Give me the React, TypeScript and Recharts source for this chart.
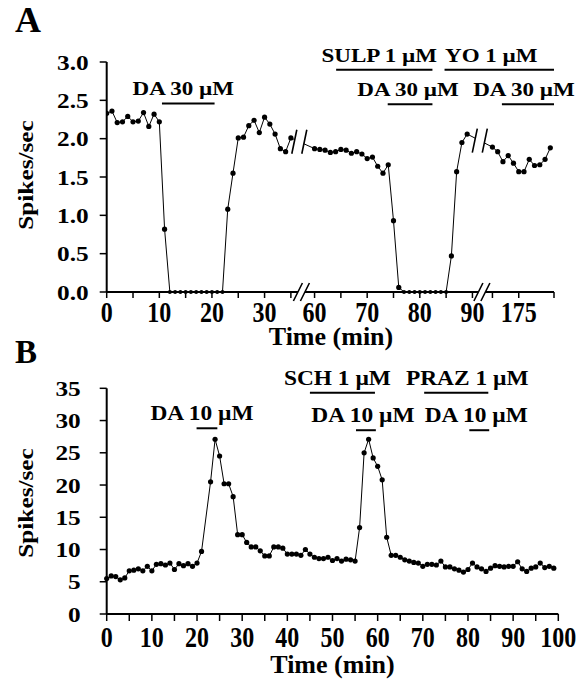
import { Line, LineChart, ReferenceDot, ReferenceLine, XAxis, YAxis } from 'recharts'

const serif = '"Liberation Serif", "Times New Roman", serif'
const span = (a: number, b: number) => Array.from({ length: b - a + 1 }, (_, i) => a + i)

// Panel A: three stretches of one recording, the time axis is broken between them
const minutesA1 = span(0, 35)
const spikesA1 = [
  2.33, 2.36, 2.21, 2.22, 2.29, 2.22, 2.23, 2.34, 2.16, 2.32, 2.22, 0.82,
  0, 0, 0, 0, 0, 0, 0, 0, 0, 0, 0,
  1.08, 1.55, 2.01, 2.02, 2.17, 2.24, 2.08, 2.28, 2.19, 2.06, 1.87, 1.83, 2.01,
]
const minutesA2 = span(60, 89)
const spikesA2 = [
  1.87, 1.86, 1.85, 1.82, 1.83, 1.86, 1.85, 1.81, 1.83, 1.8, 1.74, 1.76, 1.64, 1.55, 1.66,
  0.93, 0.06, 0, 0, 0, 0, 0, 0, 0, 0, 0, 0.47, 1.57, 1.95, 2.06,
]
const minutesA3 = span(170, 181)
const spikesA3 = [1.89, 1.83, 1.7, 1.78, 1.68, 1.57, 1.57, 1.73, 1.65, 1.66, 1.73, 1.88]

const ticksA = [0, 5, 10, 15, 20, 25, 30, 35, 60, 65, 70, 75, 80, 85, 90, 170, 175, 181.7]
const labelledA = [0, 10, 20, 30, 60, 70, 80, 90, 175]
const yTicksA = [0, 0.5, 1, 1.5, 2, 2.5, 3]

const drugsA = ['DA 30 µM', 'SULP 1 µM', 'YO 1 µM', 'DA 30 µM', 'DA 30 µM']
const drugOnA = [10.5, 64.1, 84.7, 73.9, 171.8]
const drugOffA = [20.5, 82.4, 181.7, 82.4, 181.7]
const drugLevelA = [2.46, 2.9, 2.9, 2.45, 2.45]

// Panel B: one sample per minute, none at 22 min
const spikesB = [
  5.5, 5.9, 5.8, 5.3, 5.6, 6.7, 6.8, 7.0, 6.7, 7.4,
  6.7, 7.7, 7.8, 7.6, 7.9, 6.9, 7.8, 7.5, 7.8, 7.4,
  7.9, 9.7, null, 20.5, 27.1, 24.5, 20.2, 20.2, 18.2, 12.3,
  12.3, 11.1, 10.4, 10.4, 9.8, 9.0, 9.0, 10.4, 10.4, 10.2,
  9.3, 9.3, 9.3, 9.1, 10.0, 9.3, 8.8, 8.6, 8.6, 8.8,
  8.3, 8.6, 8.2, 8.5, 8.4, 8.2, 13.4, 25.0, 27.1, 24.2,
  22.9, 20.8, 11.9, 9.1, 9.1, 8.8, 8.4, 8.2, 8.0, 7.9,
  7.4, 7.7, 7.7, 7.6, 8.2, 7.3, 7.3, 7.0, 6.8, 6.5,
  6.9, 7.9, 7.3, 7.0, 6.6, 7.1, 7.5, 7.4, 7.3, 7.4,
  7.4, 8.1, 7.0, 6.6, 7.1, 7.3, 7.9, 7.2, 7.4, 7.1,
]
const ticksB = [0, 5, 10, 15, 20, 25, 30, 35, 40, 45, 50, 55, 60, 65, 70, 75, 80, 85, 90, 95, 100]
const yTicksB = [0, 5, 10, 15, 20, 25, 30, 35]

const drugsB = ['DA 10 µM', 'SCH 1 µM', 'DA 10 µM', 'PRAZ 1 µM', 'DA 10 µM']
const drugOnB = [19.9, 45.0, 55.2, 70.3, 80.3]
const drugOffB = [24.5, 59.4, 59.6, 84.5, 84.7]
const drugLevelB = [28.8, 34.3, 28.5, 34.3, 28.5]

// broken axis: minutes -> position along the drawn axis
const toU = (t: number) => (t < 50 ? t : t < 130 ? t - 20.5 : t - 96.7)
const breaksA = [36.6, 70.9]

const rowsA = [
  ...minutesA1.map((t, i) => ({ u: toU(t), v: spikesA1[i] })),
  ...minutesA2.map((t, i) => ({ u: toU(t), v: spikesA2[i] })),
  ...minutesA3.map((t, i) => ({ u: toU(t), v: spikesA3[i] })),
]
const rowsB = spikesB.map((v, t) => ({ t, v })).filter((r) => r.v !== null)

const tickLabelsA = ticksA.map((t) => (labelledA.includes(t) ? String(t) : ''))
const tickLabelsB = ticksB.map((t) => (t % 10 === 0 ? String(t) : ''))

const lineAt = (u: number) => {
  const k = rowsA.findIndex((r) => r.u > u)
  const a = rowsA[k - 1]
  const b = rowsA[k]
  return a.v + ((b.v - a.v) * (u - a.u)) / (b.u - a.u)
}

function TickX(props: any) {
  const { x, y, index, labels, dy } = props
  return (
    <text
      transform={`translate(${x},${y + dy}) scale(0.8,1)`}
      textAnchor="middle"
      fontFamily={serif}
      fontWeight="bold"
      fontSize={30}
      fill="#000"
    >
      {labels[index]}
    </text>
  )
}

function TickY(props: any) {
  const { x, y, payload, digits } = props
  return (
    <text
      transform={`translate(${x},${y + 7.5}) scale(1.15,1)`}
      textAnchor="end"
      fontFamily={serif}
      fontWeight="bold"
      fontSize={22}
      fill="#000"
    >
      {Number(payload.value).toFixed(digits)}
    </text>
  )
}

function BreakMark(props: any) {
  const { cx, cy, h, w, gap, cover } = props
  const l = cx - gap / 2
  const r = cx + gap / 2
  const slash = (x: number) => `M${x - w / 2},${cy + h / 2}L${x + w / 2},${cy - h / 2}`
  const k = (cover / h) * w
  return (
    <g>
      <polygon
        points={`${l - k / 2},${cy + cover / 2} ${l + k / 2},${cy - cover / 2} ${r + k / 2},${cy - cover / 2} ${r - k / 2},${cy + cover / 2}`}
        fill="#fff"
      />
      <path d={slash(l) + slash(r)} stroke="#000" strokeWidth={1.6} fill="none" />
    </g>
  )
}

function drugText(label: string, dx: number, size: number, sx: number) {
  return (p: any) => (
    <text
      transform={`translate(${p.cx + dx},${p.cy - 8}) scale(${sx},1)`}
      textAnchor="middle"
      fontFamily={serif}
      fontWeight="bold"
      fontSize={size}
      fill="#000"
    >
      {label}
    </text>
  )
}

const dot = (p: any) => (
  <circle key={`d${p.index}`} cx={p.cx} cy={p.cy} r={p.value === 0 ? 2 : 2.6} fill="#000" />
)

const nudgeA = [-5, -5, -8, -2, -4]
const nudgeB = [-5, -5, -3, 11, -3]

const axisStyle = { stroke: '#000', strokeWidth: 2 }
const tickStyle = { stroke: '#000', strokeWidth: 1.5 }

export default function App() {
  return (
    <div style={{ position: 'absolute', left: 0, top: 0, width: 587, height: 682, background: '#fff' }}>
      <div style={{ position: 'absolute', left: 0, top: 0 }}>
        <LineChart width={587} height={352} data={rowsA} margin={{ top: 62, right: 33, bottom: 0, left: 0 }}>
          <XAxis
            dataKey="u"
            type="number"
            domain={[0, 85]}
            ticks={ticksA.map(toU)}
            interval={0}
            allowDataOverflow
            height={60}
            tickSize={6}
            axisLine={axisStyle}
            tickLine={tickStyle}
            tick={(p: any) => <TickX {...p} labels={tickLabelsA} dy={22} />}
          />
          <YAxis
            type="number"
            domain={[0, 3]}
            ticks={yTicksA}
            interval={0}
            width={106.7}
            tickSize={7}
            tickMargin={11}
            axisLine={axisStyle}
            tickLine={tickStyle}
            tick={(p: any) => <TickY {...p} digits={1} />}
          />
          <Line dataKey="v" stroke="#000" strokeWidth={1} dot={dot} isAnimationActive={false} />
          {breaksA.map((u, i) => (
            <ReferenceDot
              key={`bd${i}`}
              x={u}
              y={lineAt(u)}
              ifOverflow="visible"
              shape={(p: any) => <BreakMark {...p} h={24} w={5} gap={10} cover={10} />}
            />
          ))}
          {breaksA.map((u, i) => (
            <ReferenceDot
              key={`ba${i}`}
              x={u + 0.4}
              y={0}
              ifOverflow="visible"
              shape={(p: any) => <BreakMark {...p} h={18} w={9} gap={7} cover={6} />}
            />
          ))}
          {drugsA.map((d, i) => (
            <ReferenceLine
              key={`la${i}`}
              segment={[
                { x: toU(drugOnA[i]), y: drugLevelA[i] },
                { x: toU(drugOffA[i]), y: drugLevelA[i] },
              ]}
              stroke="#000"
              strokeWidth={2}
              ifOverflow="visible"
            />
          ))}
          {drugsA.map((d, i) => (
            <ReferenceDot
              key={`ta${i}`}
              x={(toU(drugOnA[i]) + toU(drugOffA[i])) / 2}
              y={drugLevelA[i]}
              ifOverflow="visible"
              shape={drugText(d, nudgeA[i], 18, 1.28)}
            />
          ))}
        </LineChart>
      </div>
      <div style={{ position: 'absolute', left: 0, top: 340 }}>
        <LineChart width={587} height={342} data={rowsB} margin={{ top: 48.3, right: 28.7, bottom: 0, left: 0 }}>
          <XAxis
            dataKey="t"
            type="number"
            domain={[0, 100]}
            ticks={ticksB}
            interval={0}
            height={68}
            tickSize={7}
            axisLine={axisStyle}
            tickLine={tickStyle}
            tick={(p: any) => <TickX {...p} labels={tickLabelsB} dy={23.7} />}
          />
          <YAxis
            type="number"
            domain={[0, 35]}
            ticks={yTicksB}
            interval={0}
            width={106.7}
            tickSize={7}
            tickMargin={19}
            axisLine={axisStyle}
            tickLine={tickStyle}
            tick={(p: any) => <TickY {...p} digits={0} />}
          />
          <Line dataKey="v" stroke="#000" strokeWidth={1} dot={dot} isAnimationActive={false} />
          {drugsB.map((d, i) => (
            <ReferenceLine
              key={`lb${i}`}
              segment={[
                { x: drugOnB[i], y: drugLevelB[i] },
                { x: drugOffB[i], y: drugLevelB[i] },
              ]}
              stroke="#000"
              strokeWidth={2}
              ifOverflow="visible"
            />
          ))}
          {drugsB.map((d, i) => (
            <ReferenceDot
              key={`tb${i}`}
              x={(drugOnB[i] + drugOffB[i]) / 2}
              y={drugLevelB[i]}
              ifOverflow="visible"
              shape={drugText(d, nudgeB[i], 20, 1.17)}
            />
          ))}
        </LineChart>
      </div>
      <svg
        width={587}
        height={682}
        style={{ position: 'absolute', left: 0, top: 0, pointerEvents: 'none' }}
        fontFamily={serif}
        fontWeight="bold"
        fill="#000"
      >
        <text x={15} y={32} fontSize={36}>A</text>
        <text x={15} y={363} fontSize={33}>B</text>
        <text transform="translate(33,175) rotate(-90) scale(1.15,1)" textAnchor="middle" fontSize={22}>
          Spikes/sec
        </text>
        <text transform="translate(33,503) rotate(-90) scale(1.15,1)" textAnchor="middle" fontSize={22}>
          Spikes/sec
        </text>
        <text x={331} y={344.5} textAnchor="middle" fontSize={26}>Time (min)</text>
        <text x={332.5} y={672.5} textAnchor="middle" fontSize={26}>Time (min)</text>
      </svg>
    </div>
  )
}
